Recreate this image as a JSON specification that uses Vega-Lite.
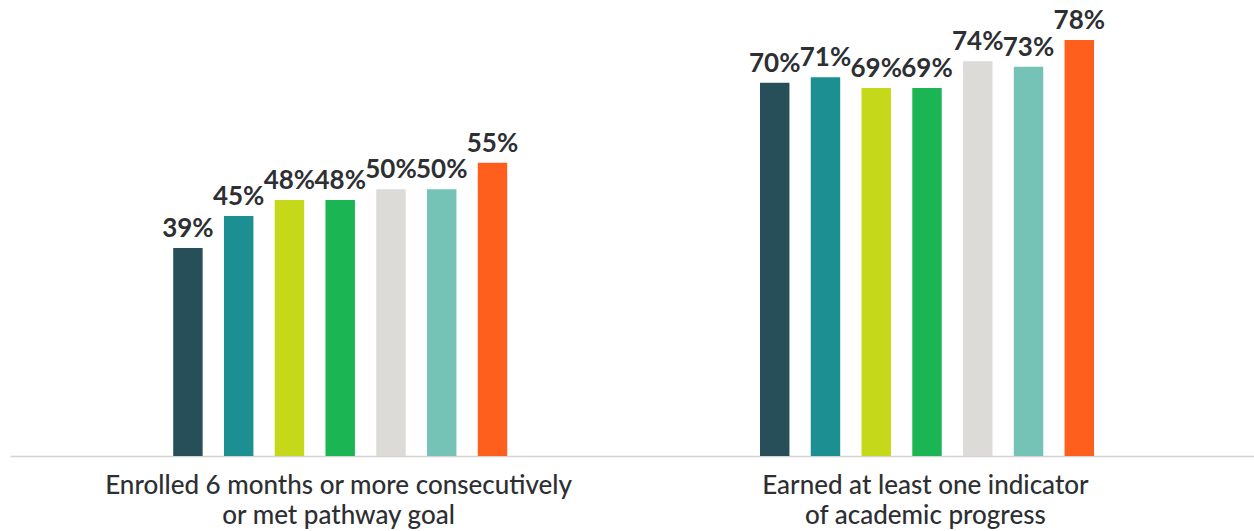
{
  "$schema": "https://vega.github.io/schema/vega-lite/v6.json",
  "autosize": {"type": "none"},
  "padding": {"left": 10, "top": 0, "right": 0, "bottom": 75},
  "width": 1244,
  "height": 456,
  "background": "white",
  "data": {
    "values": [
      {"measure": "Enrolled 6 months or more consecutively|or met pathway goal", "series": "S1", "value": 0.39},
      {"measure": "Enrolled 6 months or more consecutively|or met pathway goal", "series": "S2", "value": 0.45},
      {"measure": "Enrolled 6 months or more consecutively|or met pathway goal", "series": "S3", "value": 0.48},
      {"measure": "Enrolled 6 months or more consecutively|or met pathway goal", "series": "S4", "value": 0.48},
      {"measure": "Enrolled 6 months or more consecutively|or met pathway goal", "series": "S5", "value": 0.50},
      {"measure": "Enrolled 6 months or more consecutively|or met pathway goal", "series": "S6", "value": 0.50},
      {"measure": "Enrolled 6 months or more consecutively|or met pathway goal", "series": "S7", "value": 0.55},
      {"measure": "Earned at least one indicator|of academic progress", "series": "S1", "value": 0.70},
      {"measure": "Earned at least one indicator|of academic progress", "series": "S2", "value": 0.71},
      {"measure": "Earned at least one indicator|of academic progress", "series": "S3", "value": 0.69},
      {"measure": "Earned at least one indicator|of academic progress", "series": "S4", "value": 0.69},
      {"measure": "Earned at least one indicator|of academic progress", "series": "S5", "value": 0.74},
      {"measure": "Earned at least one indicator|of academic progress", "series": "S6", "value": 0.73},
      {"measure": "Earned at least one indicator|of academic progress", "series": "S7", "value": 0.78}
    ]
  },
  "encoding": {
    "x": {
      "field": "measure", "type": "nominal", "sort": null,
      "scale": {"paddingInner": 0, "paddingOuter": 0.06},
      "axis": {
        "title": null, "labelAngle": 0, "ticks": false,
        "domainColor": "#d4d4d4", "domainWidth": 1.5,
        "labelExpr": "split(datum.label, '|')",
        "labelFont": "Lato", "labelFontSize": 26, "labelFontWeight": 500,
        "labelColor": "#2d2f33", "labelBaseline": "top", "labelPadding": 16,
        "labelLineHeight": 30, "labelLimit": 0
      }
    },
    "xOffset": {
      "field": "series", "type": "nominal", "sort": null,
      "scale": {"range": [128, 462], "paddingInner": 0.42, "paddingOuter": 0}
    },
    "y": {
      "field": "value", "type": "quantitative",
      "scale": {"domain": [0, 0.855], "nice": false},
      "axis": null
    }
  },
  "layer": [
    {
      "mark": {"type": "bar"},
      "encoding": {
        "color": {
          "field": "series", "type": "nominal", "sort": null, "legend": null,
          "scale": {
            "domain": ["S1", "S2", "S3", "S4", "S5", "S6", "S7"],
            "range": ["#274f5a", "#1b8f91", "#c6d81a", "#1bb554", "#dcdbd8", "#75c2b7", "#ff5f1d"]
          }
        }
      }
    },
    {
      "mark": {"type": "text", "dy": -11, "baseline": "alphabetic", "font": "Lato", "fontSize": 26, "fontWeight": "bold", "color": "#2d2f33"},
      "encoding": {
        "text": {"field": "value", "type": "quantitative", "format": ".0%"}
      }
    }
  ],
  "config": {"view": {"stroke": null}}
}
